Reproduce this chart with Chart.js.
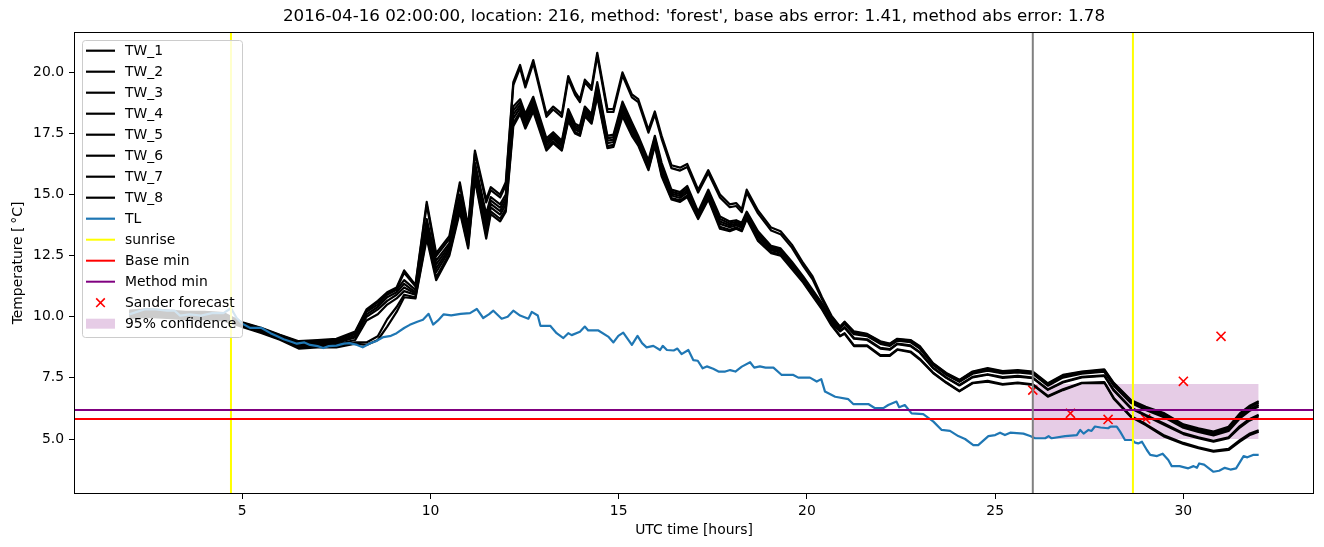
<!DOCTYPE html>
<html>
<head>
<meta charset="utf-8">
<title>TW forecast</title>
<script src="https://cdn.jsdelivr.net/npm/chart.js@4.4.0/dist/chart.umd.min.js"></script>
<style>
  html, body { margin: 0; padding: 0; background: #fff; }
  #wrap { width: 1324px; height: 547px; }
</style>
</head>
<body>
<div id="wrap"><canvas id="tempChart" width="1324" height="547"></canvas></div>
<script>
// road weather station temps, hours since 00 UTC
var twHours = [2.0, 2.5, 3.0, 3.5, 4.0, 4.5, 5.0, 5.5, 6.0, 6.5,
  7.0, 7.5, 8.0, 8.3, 8.6, 8.85, 9.1, 9.3, 9.6, 9.9,
  10.15, 10.5, 10.78, 11.0, 11.18, 11.48, 11.6, 11.85, 12.0, 12.2,
  12.38, 12.52, 12.73, 13.08, 13.26, 13.49, 13.66, 13.84, 13.97, 14.1,
  14.28, 14.43, 14.7, 14.86, 15.1, 15.35, 15.52, 15.79, 15.96, 16.14,
  16.4, 16.63, 16.82, 17.11, 17.38, 17.69, 17.95, 18.12, 18.27, 18.4,
  18.7, 19.05, 19.3, 19.6, 19.9, 20.15, 20.4, 20.65, 20.88, 21.0,
  21.25, 21.6, 21.95, 22.2, 22.4, 22.75, 23.0, 23.35, 23.7, 24.05,
  24.4, 24.8, 25.2, 25.6, 26.0, 26.4, 26.8, 27.3, 27.9, 28.15,
  28.6, 29.0, 29.5, 30.0, 30.4, 30.8, 31.2, 31.5, 31.75, 32.0];

var tw1 = [10.25, 10.3, 10.25, 10.2, 10.2, 10.15, 9.77, 9.55, 9.26, 9.0,
  9.05, 9.1, 9.4, 10.3, 10.65, 11.0, 11.2, 11.9, 11.3, 14.7,
  12.6, 13.3, 15.5, 13.7, 16.8, 14.8, 15.3, 15.0, 15.5, 19.6,
  20.3, 19.5, 20.5, 18.3, 18.6, 18.3, 19.85, 19.2, 18.9, 19.7,
  19.4, 20.8, 18.5, 18.5, 20.0, 19.1, 18.9, 17.65, 18.4, 17.4,
  16.2, 16.1, 16.25, 15.2, 16.0, 15.0, 14.6, 14.65, 14.4, 15.2,
  14.35, 13.65, 13.5, 12.95, 12.2, 11.65, 10.8, 10.05, 9.6, 9.8,
  9.4, 9.3, 9.0, 8.9, 9.1, 9.05, 8.8, 8.1, 7.7, 7.42,
  7.76, 7.9, 7.78, 7.82, 7.76, 7.28, 7.62, 7.76, 7.85, 7.3,
  6.6, 6.32, 6.05, 5.6, 5.44, 5.3, 5.5, 6.05, 6.35, 6.55];
var tw2 = [10.22, 10.27, 10.22, 10.17, 10.17, 10.12, 9.75, 9.53, 9.24, 8.97,
  9.02, 9.07, 9.35, 10.25, 10.6, 10.95, 11.15, 11.8, 11.25, 14.58,
  12.48, 13.18, 15.38, 13.58, 16.68, 14.68, 15.18, 14.88, 15.38, 19.48,
  20.18, 19.38, 20.38, 18.18, 18.48, 18.18, 19.73, 19.08, 18.78, 19.58,
  19.28, 20.68, 18.38, 18.38, 19.88, 18.98, 18.78, 17.53, 18.28, 17.28,
  16.08, 15.98, 16.13, 15.08, 15.88, 14.88, 14.48, 14.53, 14.28, 15.08,
  14.23, 13.53, 13.38, 12.83, 12.08, 11.53, 10.72, 10.0, 9.58, 9.78,
  9.37, 9.28, 8.97, 8.88, 9.08, 9.03, 8.77, 8.08, 7.68, 7.4,
  7.74, 7.87, 7.75, 7.79, 7.73, 7.25, 7.59, 7.74, 7.82, 7.27,
  6.57, 6.28, 6.0, 5.56, 5.4, 5.26, 5.45, 5.99, 6.29, 6.49];
var tw3 = [10.19, 10.24, 10.19, 10.14, 10.14, 10.09, 9.73, 9.51, 9.22, 8.94,
  8.99, 9.03, 9.3, 10.2, 10.5, 10.9, 11.1, 11.5, 11.1, 14.0,
  12.3, 13.0, 15.0, 13.4, 16.3, 14.2, 14.9, 14.6, 15.0, 18.6,
  18.9, 18.3, 19.0, 17.3, 17.55, 17.2, 18.5, 17.9, 17.8, 18.6,
  18.3, 19.6, 17.4, 17.45, 18.8, 17.95, 17.4, 16.4, 17.4, 16.3,
  15.2, 15.1, 15.35, 14.3, 15.2, 14.1, 13.9, 13.95, 13.85, 14.3,
  13.5, 12.9, 12.8, 12.25, 11.65, 11.1, 10.55, 9.95, 9.55, 9.74,
  9.33, 9.24, 8.93, 8.84, 9.05, 8.99, 8.73, 8.05, 7.65, 7.36,
  7.7, 7.83, 7.71, 7.76, 7.69, 7.21, 7.55, 7.7, 7.78, 7.22,
  6.52, 6.23, 5.93, 5.5, 5.34, 5.2, 5.39, 5.91, 6.21, 6.4];
var tw4 = [10.15, 10.2, 10.15, 10.1, 10.1, 10.05, 9.7, 9.48, 9.19, 8.9,
  8.95, 8.98, 9.22, 10.1, 10.4, 10.8, 11.0, 11.35, 11.0, 13.84,
  12.14, 12.9, 14.86, 13.28, 16.16, 14.0, 14.76, 14.46, 14.86, 18.44,
  18.78, 18.18, 18.88, 17.2, 17.46, 17.12, 18.4, 17.82, 17.72, 18.52,
  18.22, 19.48, 17.3, 17.35, 18.68, 17.84, 17.32, 16.32, 17.32, 16.19,
  15.12, 15.02, 15.26, 14.24, 15.12, 14.0, 13.82, 13.88, 13.78, 14.24,
  13.42, 12.84, 12.74, 12.19, 11.6, 11.05, 10.5, 9.89, 9.53, 9.71,
  9.29, 9.21, 8.89, 8.81, 9.02, 8.96, 8.7, 8.03, 7.63, 7.34,
  7.67, 7.8, 7.68, 7.72, 7.66, 7.18, 7.51, 7.67, 7.75, 7.18,
  6.48, 6.19, 5.88, 5.46, 5.29, 5.15, 5.33, 5.84, 6.14, 6.33];
var tw5 = [10.1, 10.15, 10.1, 10.05, 10.05, 10.0, 9.68, 9.45, 9.16, 8.85,
  8.9, 8.93, 9.15, 10.0, 10.3, 10.65, 10.9, 11.2, 10.95, 13.68,
  11.98, 12.8, 14.72, 13.16, 16.02, 13.8, 14.62, 14.32, 14.72, 18.28,
  18.66, 18.06, 18.76, 17.1, 17.37, 17.04, 18.3, 17.74, 17.64, 18.44,
  18.14, 19.36, 17.2, 17.25, 18.56, 17.73, 17.24, 16.24, 17.24, 16.08,
  15.04, 14.94, 15.17, 14.18, 15.04, 13.9, 13.74, 13.81, 13.71, 14.18,
  13.34, 12.78, 12.68, 12.13, 11.55, 11.0, 10.45, 9.83, 9.42, 9.58,
  9.13, 9.08, 8.73, 8.68, 8.9, 8.83, 8.55, 7.92, 7.52, 7.21,
  7.54, 7.65, 7.53, 7.58, 7.51, 7.03, 7.34, 7.54, 7.6, 7.01,
  6.29, 5.98, 5.62, 5.24, 5.07, 4.93, 5.07, 5.53, 5.81, 5.99];
var tw6 = [10.06, 10.11, 10.06, 10.01, 10.01, 9.96, 9.65, 9.41, 9.13, 8.81,
  8.86, 8.87, 9.05, 9.85, 10.1, 10.5, 10.75, 11.05, 10.9, 13.52,
  11.82, 12.7, 14.58, 13.04, 15.88, 13.6, 14.48, 14.18, 14.58, 18.12,
  18.54, 17.94, 18.64, 17.0, 17.28, 16.96, 18.2, 17.66, 17.56, 18.36,
  18.06, 19.24, 17.1, 17.15, 18.44, 17.62, 17.16, 16.16, 17.16, 15.97,
  14.96, 14.86, 15.08, 14.12, 14.96, 13.8, 13.66, 13.74, 13.64, 14.12,
  13.26, 12.72, 12.62, 12.07, 11.5, 10.95, 10.4, 9.77, 9.4, 9.55,
  9.1, 9.05, 8.7, 8.65, 8.88, 8.8, 8.53, 7.9, 7.5, 7.19,
  7.52, 7.63, 7.5, 7.55, 7.49, 7.01, 7.31, 7.52, 7.58, 6.98,
  6.26, 5.95, 5.57, 5.2, 5.03, 4.89, 5.03, 5.47, 5.75, 5.93];
var tw7 = [10.0, 10.05, 10.0, 9.95, 9.95, 9.9, 9.61, 9.37, 9.09, 8.75,
  8.8, 8.8, 8.95, 8.95, 9.2, 9.9, 10.4, 10.9, 10.8, 13.32,
  11.62, 12.58, 14.41, 12.89, 15.71, 13.35, 14.31, 14.01, 14.41, 17.92,
  18.39, 17.79, 18.49, 16.88, 17.17, 16.86, 18.08, 17.56, 17.46, 18.26,
  17.96, 19.09, 16.98, 17.03, 18.29, 17.48, 17.06, 16.06, 17.06, 15.83,
  14.86, 14.76, 14.97, 14.05, 14.86, 13.68, 13.56, 13.65, 13.55, 14.05,
  13.16, 12.65, 12.55, 12.0, 11.44, 10.89, 10.34, 9.7, 9.22, 9.33,
  8.83, 8.83, 8.43, 8.43, 8.67, 8.58, 8.28, 7.72, 7.32, 6.97,
  7.3, 7.38, 7.25, 7.31, 7.24, 6.76, 7.03, 7.3, 7.33, 6.68,
  5.94, 5.61, 5.14, 4.84, 4.66, 4.52, 4.6, 4.95, 5.21, 5.36];
var tw8 = [9.95, 10.0, 9.95, 9.9, 9.9, 9.85, 9.58, 9.34, 9.06, 8.7,
  8.75, 8.75, 8.9, 8.85, 9.05, 9.6, 10.2, 10.8, 10.75, 13.2,
  11.5, 12.5, 14.3, 12.8, 15.6, 13.2, 14.2, 13.9, 14.3, 17.8,
  18.3, 17.7, 18.4, 16.8, 17.1, 16.8, 18.0, 17.5, 17.4, 18.2,
  17.9, 19.0, 16.9, 16.95, 18.2, 17.4, 17.0, 16.0, 17.0, 15.75,
  14.8, 14.7, 14.9, 14.0, 14.8, 13.6, 13.5, 13.6, 13.5, 14.0,
  13.1, 12.6, 12.5, 11.95, 11.4, 10.85, 10.3, 9.65, 9.2, 9.3,
  8.8, 8.8, 8.4, 8.4, 8.65, 8.55, 8.25, 7.7, 7.3, 6.95,
  7.28, 7.35, 7.22, 7.28, 7.21, 6.73, 7.0, 7.28, 7.3, 6.65,
  5.91, 5.57, 5.09, 4.8, 4.62, 4.48, 4.55, 4.89, 5.15, 5.3];

var tlHours = [2.0, 2.2, 2.4, 2.7, 3.0, 3.2, 3.35, 3.6, 3.9, 4.2,
  4.5, 4.7, 4.85, 5.0, 5.2, 5.5, 5.75, 5.9, 6.1, 6.3,
  6.45, 6.65, 6.8, 7.0, 7.15, 7.3, 7.5, 7.7, 7.85, 8.05,
  8.2, 8.4, 8.55, 8.75, 8.95, 9.1, 9.3, 9.45, 9.65, 9.8,
  9.95, 10.07, 10.2, 10.35, 10.55, 10.8, 11.05, 11.23, 11.4, 11.55,
  11.67, 11.89, 12.05, 12.2, 12.38, 12.6, 12.69, 12.85, 12.92, 13.18,
  13.35, 13.53, 13.66, 13.75, 13.97, 14.1, 14.19, 14.46, 14.72, 14.86,
  14.99, 15.12, 15.35, 15.5, 15.62, 15.74, 15.92, 16.1, 16.17, 16.28,
  16.46, 16.56, 16.67, 16.85, 16.98, 17.1, 17.23, 17.34, 17.51, 17.65,
  17.83, 17.96, 18.1, 18.27, 18.49, 18.6, 18.75, 18.9, 19.11, 19.33,
  19.64, 19.77, 20.08, 20.26, 20.38, 20.48, 20.75, 21.1, 21.23, 21.63,
  21.81, 22.03, 22.16, 22.38, 22.45, 22.6, 22.78, 23.09, 23.36, 23.58,
  23.8, 24.02, 24.2, 24.42, 24.55, 24.82, 25.0, 25.13, 25.26, 25.4,
  25.75, 25.93, 26.06, 26.33, 26.42, 26.5, 26.86, 27.17, 27.26, 27.35,
  27.48, 27.56, 27.65, 27.8, 28.0, 28.07, 28.23, 28.32, 28.45, 28.63,
  28.72, 28.8, 28.9, 29.03, 29.12, 29.3, 29.45, 29.6, 29.69, 29.9,
  30.0, 30.13, 30.27, 30.36, 30.42, 30.55, 30.8, 30.95, 31.1, 31.25,
  31.4, 31.6, 31.7, 31.85, 32.0];
var tlValues = [10.1, 10.2, 10.3, 10.3, 10.25, 10.25, 10.05, 10.1, 10.05, 10.15,
  10.15, 10.35, 9.95, 9.72, 9.55, 9.55, 9.33, 9.22, 9.08, 8.98,
  8.9, 8.95, 8.85, 8.8, 8.72, 8.8, 8.82, 8.9, 8.92, 8.85,
  8.75, 8.92, 9.0, 9.17, 9.22, 9.33, 9.54, 9.67, 9.8, 9.88,
  10.12, 9.68, 9.85, 10.1, 10.06, 10.12, 10.15, 10.32, 9.95, 10.1,
  10.25, 9.92, 10.0, 10.25, 10.05, 9.92, 10.2, 10.05, 9.63, 9.63,
  9.33, 9.13, 9.33, 9.25, 9.39, 9.6, 9.44, 9.44, 9.19, 8.95,
  9.22, 9.35, 8.85, 9.22, 8.92, 8.75, 8.81, 8.64, 8.81, 8.64,
  8.62, 8.7, 8.47, 8.64, 8.23, 8.2, 7.89, 7.97, 7.87, 7.76,
  7.76, 7.82, 7.76, 7.96, 8.14, 7.92, 7.97, 7.92, 7.92, 7.62,
  7.62, 7.51, 7.51, 7.35, 7.45, 6.94, 6.73, 6.63, 6.43, 6.43,
  6.26, 6.26, 6.39, 6.53, 6.3, 6.39, 6.05, 6.02, 5.71, 5.37,
  5.33, 5.12, 5.0, 4.75, 4.75, 5.12, 5.16, 5.26, 5.16, 5.26,
  5.22, 5.12, 5.03, 5.03, 5.12, 5.03, 5.12, 5.16, 5.37, 5.22,
  5.37, 5.33, 5.51, 5.47, 5.44, 5.51, 5.51, 5.3, 4.96, 4.96,
  4.85, 4.82, 4.89, 4.55, 4.35, 4.3, 4.4, 4.14, 3.89, 3.89,
  3.85, 3.8, 3.89, 3.82, 4.0, 3.95, 3.66, 3.7, 3.82, 3.75,
  3.8, 4.3, 4.25, 4.35, 4.35];

var sanderHours = [26, 27, 28, 29, 30, 31];
var sanderValues = [7.0, 6.05, 5.8, 5.82, 7.36, 9.2];

var sunriseHours = [4.7, 28.66];
var nowHour = 26;
var baseMin = 5.82;
var methodMin = 6.19;
var confHours = [26, 32];
var confLow = 5.0;
var confHigh = 7.25;

var xTicks = [5, 10, 15, 20, 25, 30];
var yTicks = [5, 7.5, 10, 12.5, 15, 17.5, 20];

var titleText = "2016-04-16 02:00:00, location: 216, method: 'forest', base abs error: 1.41, method abs error: 1.78";

var X_MIN = 0.53, X_MAX = 33.47, Y_MIN = 2.75, Y_MAX = 21.65;
var FONT = '"DejaVu Sans", sans-serif';

function pairs(xs, ys) {
    return xs.map(function(x, i) { return { x: x, y: ys[i] }; });
}

var datasets = [];
[tw1, tw2, tw3, tw4, tw5, tw6, tw7, tw8].forEach(function(vals, i) {
    datasets.push({
        label: 'TW_' + (i + 1),
        data: pairs(twHours, vals),
        borderColor: '#000000',
        borderWidth: 2.2,
        order: 80 - i,
        legendKind: 'line'
    });
});
datasets.push({
    label: 'TL',
    data: pairs(tlHours, tlValues),
    borderColor: '#1f77b4',
    borderWidth: 2.2,
    order: 60,
    legendKind: 'line'
});
sunriseHours.forEach(function(h, i) {
    datasets.push({
        label: 'sunrise',
        data: [{ x: h, y: Y_MIN }, { x: h, y: Y_MAX }],
        borderColor: '#ffff00',
        borderWidth: 2,
        order: 50,
        legendKind: i === 0 ? 'line' : null
    });
});
datasets.push({
    label: 'Base min',
    data: [{ x: X_MIN, y: baseMin }, { x: X_MAX, y: baseMin }],
    borderColor: '#ff0000',
    borderWidth: 2,
    order: 40,
    legendKind: 'line'
});
datasets.push({
    label: 'Method min',
    data: [{ x: X_MIN, y: methodMin }, { x: X_MAX, y: methodMin }],
    borderColor: '#800080',
    borderWidth: 2,
    order: 40,
    legendKind: 'line'
});
datasets.push({
    label: 'Sander forecast',
    data: pairs(sanderHours, sanderValues),
    showLine: false,
    pointStyle: 'crossRot',
    pointRadius: 6.4,
    pointBorderWidth: 1.6,
    borderColor: '#ff0000',
    order: 90,
    legendKind: 'marker'
});
datasets.push({
    label: '95% confidence',
    data: pairs(confHours, [confHigh, confHigh]),
    fill: { value: confLow },
    backgroundColor: 'rgba(128,0,128,0.2)',
    borderWidth: 0,
    order: 100,
    legendKind: 'patch'
});
// current time marker
datasets.push({
    label: '',
    data: [{ x: nowHour, y: Y_MIN }, { x: nowHour, y: Y_MAX }],
    borderColor: '#808080',
    borderWidth: 2,
    order: 30
});

function roundRect(ctx, x, y, w, h, r) {
    ctx.beginPath();
    ctx.moveTo(x + r, y);
    ctx.lineTo(x + w - r, y);
    ctx.arcTo(x + w, y, x + w, y + r, r);
    ctx.lineTo(x + w, y + h - r);
    ctx.arcTo(x + w, y + h, x + w - r, y + h, r);
    ctx.lineTo(x + r, y + h);
    ctx.arcTo(x, y + h, x, y + h - r, r);
    ctx.lineTo(x, y + r);
    ctx.arcTo(x, y, x + r, y, r);
    ctx.closePath();
}

// frame, legend box inside the axes, and title
var framePlugin = {
    id: 'frameLegend',
    afterDatasetsDraw: function(chart) {
        var ctx = chart.ctx;
        var a = chart.chartArea;
        ctx.save();
        ctx.strokeStyle = '#000';
        ctx.lineWidth = 1;
        ctx.strokeRect(Math.round(a.left) + 0.5, Math.round(a.top) + 0.5,
            Math.round(a.right - a.left) - 1, Math.round(a.bottom - a.top) - 1);

        var items = chart.data.datasets.filter(function(d) { return d.legendKind; });
        var left = 82, top = 40, rowH = 21;
        var height = (items.length - 1) * rowH + 24;
        roundRect(ctx, left + 0.5, top + 0.5, 160, height, 3);
        ctx.fillStyle = 'rgba(255,255,255,0.8)';
        ctx.fill();
        ctx.strokeStyle = '#cccccc';
        ctx.stroke();

        ctx.font = '13.9px ' + FONT;
        ctx.textBaseline = 'middle';
        ctx.textAlign = 'left';
        items.forEach(function(d, i) {
            var y = top + 10.7 + i * rowH;
            if (d.legendKind === 'line') {
                ctx.strokeStyle = d.borderColor;
                ctx.lineWidth = d.borderWidth;
                ctx.beginPath();
                ctx.moveTo(86, y);
                ctx.lineTo(115, y);
                ctx.stroke();
            } else if (d.legendKind === 'marker') {
                var r = 4.3;
                ctx.strokeStyle = d.borderColor;
                ctx.lineWidth = 1.6;
                ctx.beginPath();
                ctx.moveTo(100.5 - r, y - r); ctx.lineTo(100.5 + r, y + r);
                ctx.moveTo(100.5 + r, y - r); ctx.lineTo(100.5 - r, y + r);
                ctx.stroke();
            } else {
                ctx.fillStyle = d.backgroundColor;
                ctx.fillRect(86, y - 5, 29, 10);
            }
            ctx.fillStyle = '#000';
            ctx.fillText(d.label, 125, y + 1);
        });

        ctx.font = '16.7px ' + FONT;
        ctx.textAlign = 'center';
        ctx.fillStyle = '#000';
        ctx.fillText(titleText, (a.left + a.right) / 2, 17);
        ctx.restore();
    }
};

Chart.defaults.font.family = FONT;
Chart.defaults.font.size = 13.9;
Chart.defaults.color = '#000';

var ctxT = document.getElementById('tempChart').getContext('2d');
var tempChart = new Chart(ctxT, {
    type: 'line',
    data: { datasets: datasets },
    options: {
        responsive: false,
        animation: false,
        devicePixelRatio: 1,
        events: [],
        layout: { padding: { top: 32, right: 10, bottom: 0, left: 0 } },
        elements: {
            point: { radius: 0 },
            line: { tension: 0, borderJoinStyle: 'round', fill: false }
        },
        plugins: {
            legend: { display: false },
            tooltip: { enabled: false },
            title: { display: false }
        },
        scales: {
            x: {
                type: 'linear',
                min: X_MIN,
                max: X_MAX,
                afterFit: function(scale) { scale.height = 53; },
                afterBuildTicks: function(scale) {
                    scale.ticks = xTicks.map(function(v) { return { value: v }; });
                },
                ticks: { autoSkip: false, maxRotation: 0, padding: 4 },
                grid: { drawOnChartArea: false, tickColor: '#000', tickLength: 5 },
                border: { display: false },
                title: { display: true, text: 'UTC time [hours]', padding: { top: 0, bottom: 8.5 } }
            },
            y: {
                type: 'linear',
                min: Y_MIN,
                max: Y_MAX,
                afterFit: function(scale) { scale.width = 74; },
                afterBuildTicks: function(scale) {
                    scale.ticks = yTicks.map(function(v) { return { value: v }; });
                },
                ticks: {
                    padding: 5,
                    callback: function(v) { return v.toFixed(1); }
                },
                grid: { drawOnChartArea: false, tickColor: '#000', tickLength: 5 },
                border: { display: false },
                title: { display: true, text: 'Temperature [\u2009\u00b0C]', padding: { top: 10, bottom: 0 } }
            }
        }
    },
    plugins: [framePlugin]
});
</script>
</body>
</html>
